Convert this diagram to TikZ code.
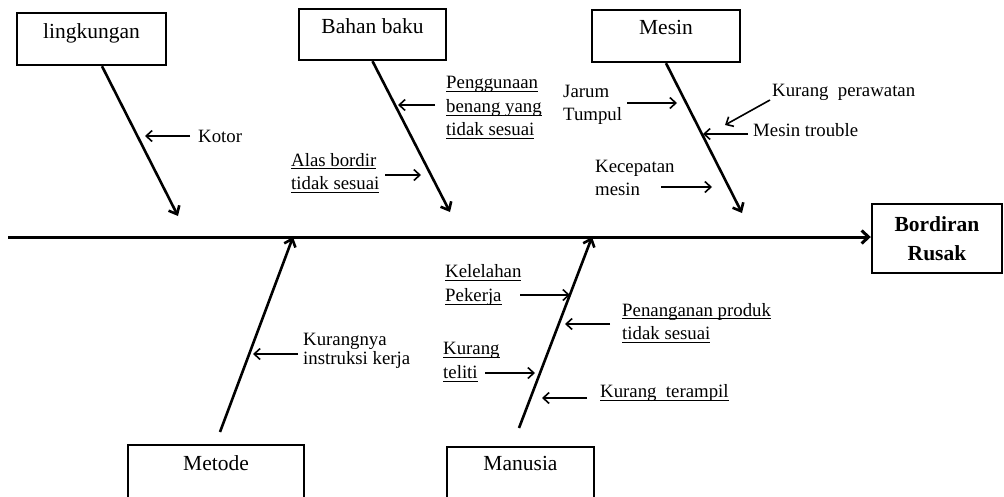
\documentclass[tikz,border=0pt]{standalone}
\usepackage{fontspec}
\setmainfont{Liberation Serif}
\usetikzlibrary{arrows.meta,calc}
\newcommand\myul[1]{\setbox0\hbox{#1}\rlap{\rule[-3.4pt]{\wd0}{1pt}}\box0}
\begin{document}
\begin{tikzpicture}[x=1pt,y=-1pt,
  catbox/.style={draw, line width=2.4pt, inner xsep=0pt, inner ysep=0pt, anchor=base, font=\fontsize{21.5}{24}\selectfont},
  effbox/.style={draw, line width=2.4pt, inner sep=0pt, align=center, font=\bfseries\fontsize{21.5}{29}\selectfont},
  lbl/.style={inner sep=0pt, anchor=west, align=left, font=\fontsize{18.8}{23.5}\selectfont},
  spine/.style={line width=3pt, -{Straight Barb[length=7pt,width=13pt]}},
  bone/.style={line width=2.6pt, -{Straight Barb[length=7pt,width=12pt]}},
  sub/.style={line width=1.6pt, -{Straight Barb[length=6pt,width=11pt]}},
]
\useasboundingbox (0,0) rectangle (1004,496);
\clip (0,0) rectangle (1004,496);

% category boxes
\node[catbox, minimum width=149pt, text height=25pt, text depth=27pt] (env) at (91.5,38) {lingkungan};
\node[catbox, minimum width=147pt, text height=24pt, text depth=27pt] (mat) at (372.5,33) {Bahan baku};
\node[catbox, minimum width=148pt, text height=24pt, text depth=28pt] (mach) at (666,34) {Mesin};
\node[catbox, minimum width=176pt, text height=25pt, text depth=50pt] (meth) at (216,470) {Metode};
\node[catbox, minimum width=147pt, text height=23pt, text depth=50pt] (man) at (520.5,470) {Manusia};
\node[effbox, minimum width=130pt, minimum height=69pt] (eff) at (937,238.5) {Bordiran\\Rusak};

% spine
\coordinate (s0) at (8,237);
\draw[spine] (s0) -- (s0 -| eff.west);

% bones
\coordinate (envtip) at (178,216);
\coordinate (mattip) at (450,212);
\coordinate (machtip) at (742,213);
\coordinate (methstart) at (220,432);
\coordinate (methtip) at (293,237);
\coordinate (manstart) at (519,428);
\coordinate (mantip) at (592,237);
\draw[bone] ($(env.south)+(10.5,0)$) -- (envtip);
\draw[bone] (mat.south) -- (mattip);
\draw[bone] (mach.south) -- (machtip);
\draw[bone] (methstart) -- (methtip);
\draw[bone] (manstart) -- (mantip);

% labels
\node[lbl] (kotor) at (198,136) {Kotor};
\node[lbl] (peng) at (446,108) {\myul{Penggunaan}\\\myul{benang yang}\\\myul{tidak sesuai}};
\node[lbl] (alas) at (291,173) {\myul{Alas bordir}\\\myul{tidak sesuai}};
\node[lbl] (jarum) at (563,105) {Jarum\\Tumpul};
\node[lbl] (rawat) at (772,92) {Kurang\ \ perawatan};
\node[lbl] (trouble) at (753,130) {Mesin trouble};
\node[lbl] (cepat) at (595,178) {Kecepatan\\mesin};
\node[lbl, font=\fontsize{18.8}{18.5}\selectfont] (instr) at (303,351) {Kurangnya\\instruksi kerja};
\node[lbl] (lelah) at (445,285) {\myul{Kelelahan}\\\myul{Pekerja}};
\node[lbl] (tangan) at (622,323) {\myul{Penanganan produk}\\\myul{tidak sesuai}};
\node[lbl] (teliti) at (443,362) {\myul{Kurang}\\\myul{teliti}};
\node[lbl] (terampil) at (600,393) {\myul{Kurang\ \ terampil}};

% sub-cause arrows
\coordinate (k1s) at (190,136);   \coordinate (k1t) at (145,136);
\coordinate (k2s) at (435,105);   \coordinate (k2t) at (398,105);
\coordinate (k3s) at (385,175);   \coordinate (k3t) at (421,175);
\coordinate (k4s) at (627,103);   \coordinate (k4t) at (677,103);
\coordinate (k5s) at (770,100);   \coordinate (k5t) at (725,125);
\coordinate (k6s) at (748,134);   \coordinate (k6t) at (703,134);
\coordinate (k7s) at (661,187);   \coordinate (k7t) at (712,187);
\coordinate (k8s) at (298,354);   \coordinate (k8t) at (253,354);
\coordinate (k9s) at (520,295);   \coordinate (k9t) at (570,295);
\coordinate (k10s) at (610,324);  \coordinate (k10t) at (565,324);
\coordinate (k11s) at (485,373);  \coordinate (k11t) at (535,373);
\coordinate (k12s) at (587,398);  \coordinate (k12t) at (542,398);
\foreach \i in {1,...,12} {\draw[sub] (k\i s) -- (k\i t);}
\end{tikzpicture}
\end{document}
